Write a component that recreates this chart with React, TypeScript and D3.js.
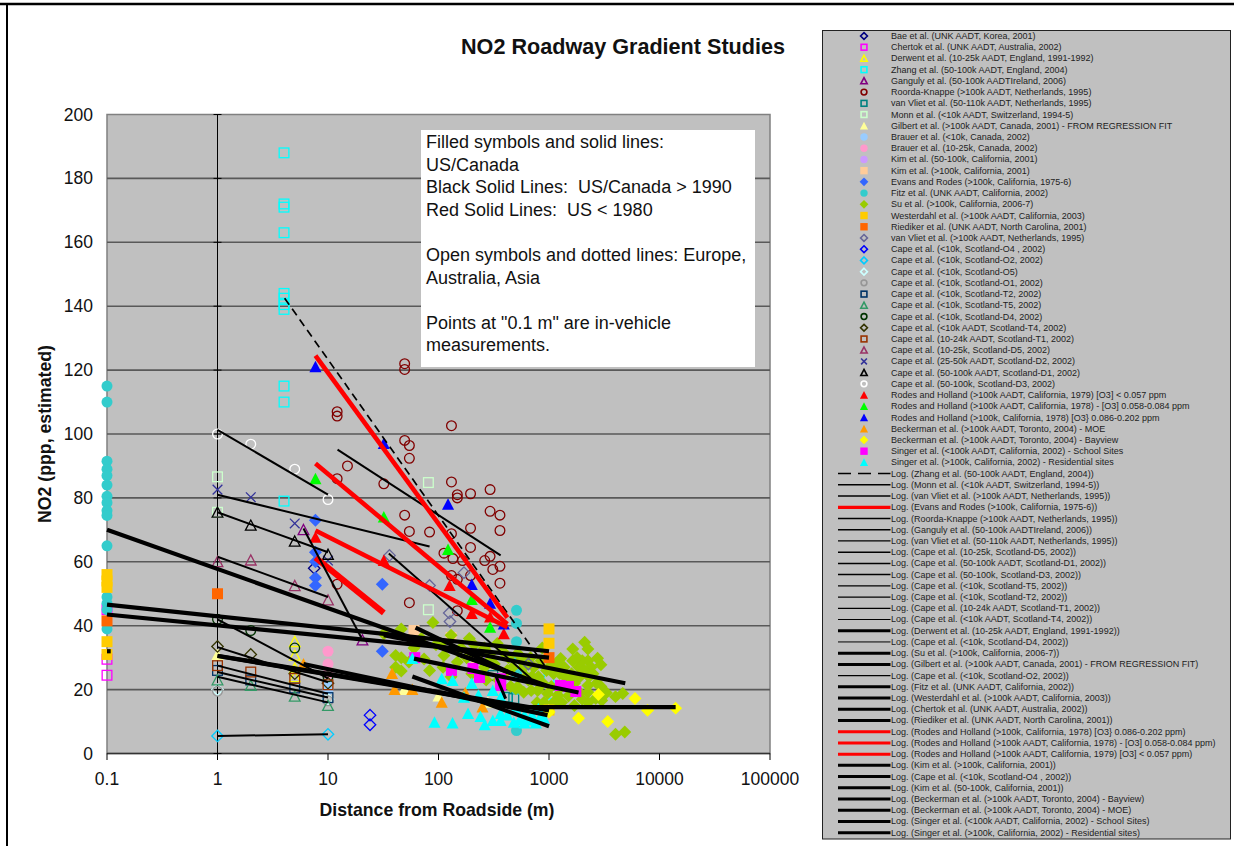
import React from "react";
import * as d3 from "d3";

type Pt = [number, number];
const FONT = "'Liberation Sans', Arial, sans-serif";

// ---- measured points [distance m, NO2] ----
const bae: Pt[] = [[7.5, 58]];
const chertok: Pt[] = [[0.1, 45], [0.1, 29.5], [0.1, 24.5]];
const derwent: Pt[] = [[5, 35], [5, 30.7], [5, 26.7], [5, 24]];
const zhang: Pt[] = [[4, 188], [4, 172], [4, 171], [4, 163], [4, 144], [4, 142.5], [4, 140.5], [4, 139], [4, 115], [4, 110], [4, 79], [1000, 23.5], [1000, 15.6], [420, 17.5]];
const ganguly: Pt[] = [[6, 70], [20.5, 35.5]];
const roorda: Pt[] = [[12.1, 107], [12.1, 105.6], [131, 102.6], [49.4, 98], [54.5, 96.4], [54.5, 92.4], [15, 90], [12.1, 86], [32, 84.4], [131, 85], [148, 81], [148, 80], [195, 81.3], [293, 82.6], [293, 75.8], [360, 74.6], [49.4, 74.6], [360, 69.8], [54.5, 69.5], [83, 69.3], [131, 68.8], [195, 70.5], [195, 64.5], [112, 62.7], [135, 61], [165, 60.4], [262, 60.4], [293, 61.7], [310, 57.6], [360, 58.6], [360, 53.3], [131, 55.7], [148, 54.5], [195, 55.7], [54.5, 47.2], [148, 44.7], [12.1, 53], [49.4, 122], [49.4, 120.2]];
const vanVliet50: Pt[] = [[310, 24.4], [420, 17.6], [480, 17.2]];
const monn: Pt[] = [[1, 86.6], [1, 75.5], [81, 84.8], [81, 45]];
const gilbert: Pt[] = [[1, 31], [49, 20], [100, 18], [280, 16]];
const brauerLow: Pt[] = [[10, 22], [10, 20]];
const brauerMid: Pt[] = [[10, 32], [10, 28], [10, 25]];
const kim50: Pt[] = [[240, 30.7]];
const kim100: Pt[] = [[60, 38.5], [130, 36.3], [220, 30]];
const evans: Pt[] = [[7.7, 73], [7.7, 63], [7.7, 60], [7.7, 55], [7.7, 52.6], [31, 53], [31, 32]];
const fitz: Pt[] = [[0.1, 115], [0.1, 110], [0.1, 91.5], [0.1, 89], [0.1, 87], [0.1, 84], [0.1, 80.5], [0.1, 78.5], [0.1, 76], [0.1, 74.5], [0.1, 65], [0.1, 49], [0.1, 47], [0.1, 45], [0.1, 39], [508, 44.8], [508, 40.7], [508, 35], [508, 30], [508, 25], [508, 20], [508, 14], [508, 7.2]];
const su: Pt[] = [[2100, 34.8], [1640, 32.7], [2250, 32.7], [2750, 29.8], [2950, 27.8], [1275, 29.7], [1640, 29], [2250, 29], [1370, 27], [1860, 27], [2400, 27], [2250, 21.3], [2950, 21], [2250, 19.2], [2650, 17.2], [1200, 18.2], [970, 18.8], [4000, 17.8], [4650, 18.8], [3000, 16.6], [2260, 16], [4000, 6], [4850, 6.7], [590, 19.2], [500, 20.3], [790, 19.7], [89, 41], [46, 39], [32, 37.5], [41, 30.7], [46, 30], [54, 28.6], [41, 27], [46, 25.8], [83, 26], [74, 29.6], [112, 30.7], [148, 28.6], [190, 36], [340, 34.4], [870, 33], [520, 31.3], [850, 29], [590, 27], [520, 20.8], [690, 19.7], [300, 29.7], [240, 31.3], [105, 34.4], [700, 24], [1100, 25], [1500, 23], [1900, 24], [1300, 21], [420, 26], [680, 30], [950, 26], [60, 33], [160, 33], [260, 27], [70, 36], [95, 34], [130, 37], [150, 32], [180, 30], [210, 34], [260, 33], [290, 31], [320, 28], [380, 32], [430, 30], [470, 27], [560, 29], [620, 24], [650, 23], [730, 27], [800, 24], [880, 22], [1000, 27], [1050, 21], [1150, 28], [1250, 25], [1400, 24], [1600, 25], [1700, 22], [2000, 29], [2100, 26], [2300, 24], [2500, 25], [2700, 22], [1800, 30], [1900, 19], [1500, 18], [1300, 16], [1700, 15], [2000, 17], [1100, 16], [3300, 19], [900, 16], [780, 16], [450, 21], [350, 23], [270, 23], [200, 25], [130, 24], [110, 27]];
const westerdahl: Pt[] = [[0.1, 56], [0.1, 54], [0.1, 52], [0.1, 35], [0.1, 31], [1000, 39], [1000, 34.5], [1000, 13.6]];
const riediker: Pt[] = [[0.1, 41.5], [1, 50], [1000, 30]];
const vanVliet100: Pt[] = [[36, 62], [170, 56.6], [83, 52.6], [125, 44], [127, 41.3], [650, 28]];
const capeO4: Pt[] = [[24, 12], [24, 9]];
const capeO2: Pt[] = [[1, 5.5], [10, 6]];
const capeO5: Pt[] = [[1, 20], [10, 17]];
const capeO1: Pt[] = [[1, 19.5], [10, 16.5]];
const capeT2: Pt[] = [[1, 26], [2, 23], [5, 20.5], [10, 17.5]];
const capeT5: Pt[] = [[1, 23], [2, 21.3], [5, 17.9], [10, 15]];
const capeD4: Pt[] = [[1, 42], [2, 38.5], [5, 33], [10, 24]];
const capeT4: Pt[] = [[1, 33.5], [2, 31], [5, 25], [10, 22]];
const capeT1: Pt[] = [[1, 27.5], [2, 25.5], [5, 23.5], [10, 21.5]];
const capeD5: Pt[] = [[1, 60], [2, 60.5], [5, 52.5], [10, 48]];
const capeD2: Pt[] = [[1, 82.6], [2, 80.2], [5, 72], [10, 60.4]];
const capeD1: Pt[] = [[1, 75.5], [2, 71.4], [5, 66.4], [10, 62.3]];
const capeD3: Pt[] = [[1, 100], [2, 96.8], [5, 89], [10, 79.5]];
const rodesLow: Pt[] = [[7.7, 67.7], [32, 60.4], [126, 52.6], [200, 43.8], [293, 42.7], [390, 37.5]];
const rodesMid: Pt[] = [[7.7, 86], [32, 74], [122, 63.8], [200, 48.2], [293, 39.5]];
const rodesHigh: Pt[] = [[7.7, 121], [32, 97], [122, 78], [200, 52.9], [293, 47], [390, 40.5]];
const beckMoe: Pt[] = [[6, 28], [38, 25], [40, 20], [58, 20], [107, 16], [175, 19], [250, 14.5]];
const beckBay: Pt[] = [[2800, 18.5], [6000, 17.2], [7800, 13.5], [14000, 14.2], [1850, 11], [3400, 10], [1000, 13]];
const singerSchool: Pt[] = [[61, 30], [131, 26], [205, 26.6], [235, 23.8], [365, 21.3], [365, 23.4], [1270, 21.3], [1750, 19.4], [1500, 21]];
const singerRes: Pt[] = [[58, 29.7], [107, 23.4], [134, 22.8], [200, 22], [92, 9.8], [134, 9.5], [185, 12.5], [240, 11.6], [262, 9], [310, 10.3], [365, 10.3], [480, 9.8], [600, 9.5], [760, 9.5], [310, 19.7], [365, 17.6], [170, 17.6], [230, 18.2], [365, 12.5], [850, 12], [500, 14], [600, 12], [700, 12], [800, 14], [900, 11], [420, 12], [540, 10.5], [680, 10.5]];

// ---- fitted trends: end values ----
const tZhang: Pt[] = [[4.05, 142.5], [935, 27]];
const tMonn: Pt[] = [[1, 81], [83, 64.8]];
const tVanVliet100: Pt[] = [[35.5, 62.6], [686, 23.5]];
const tEvans: Pt[] = [[7.7, 61.3], [32, 44]];
const tRoorda: Pt[] = [[12.2, 95.1], [365, 62]];
const tGanguly: Pt[] = [[6, 70.4], [20, 36.3]];
const tVanVliet50: Pt[] = [[330, 24.4], [405, 17.2]];
const tD5: Pt[] = [[1, 61.6], [10, 49]];
const tD1: Pt[] = [[1, 75.5], [10, 63]];
const tD3: Pt[] = [[1, 101.3], [10, 81]];
const tT5: Pt[] = [[1, 24], [10, 16]];
const tT2: Pt[] = [[1, 25.5], [10, 17.5]];
const tT1: Pt[] = [[1, 27.5], [10, 18.7]];
const tT4: Pt[] = [[1, 33.3], [10, 22.3]];
const tDerwent: Pt[] = [[1, 30.6], [1000, 13.5]];
const tD4: Pt[] = [[1, 42], [10, 23.5]];
const tSu: Pt[] = [[32, 37], [4900, 22]];
const tGilbert: Pt[] = [[1, 30.5], [600, 14.5]];
const tO2: Pt[] = [[1, 5.5], [10, 6]];
const tFitz: Pt[] = [[0.1, 70], [1000, 21]];
const tWesterdahl: Pt[] = [[0.1, 46.6], [1000, 32]];
const tChertok: Pt[] = [[0.1, 32], [0.108, 32]];
const tRiediker: Pt[] = [[0.1, 43.5], [1000, 30]];
const tRodesHigh: Pt[] = [[7.7, 124.5], [420, 42.5]];
const tRodesMid: Pt[] = [[7.7, 90.8], [420, 40.5]];
const tRodesLow: Pt[] = [[7.7, 69.8], [420, 39.5]];
const tKim100: Pt[] = [[62, 39.4], [430, 25.5]];
const tKim50: Pt[] = [[150, 31], [560, 24]];
const tBay: Pt[] = [[600, 14.5], [14000, 14.5]];
const tMoe: Pt[] = [[6, 28], [970, 12]];
const tSchool: Pt[] = [[60, 29.7], [1850, 19.1]];
const tRes: Pt[] = [[58, 24.1], [1000, 8.5]];

const yTicks = [0, 20, 40, 60, 80, 100, 120, 140, 160, 180, 200];
const xTicks = [0.1, 1, 10, 100, 1000, 10000, 100000];
const noteLines = [
  "Filled symbols and solid lines:", "US/Canada", "Black Solid Lines:  US/Canada > 1990", "Red Solid Lines:  US < 1980", "",
  "Open symbols and dotted lines: Europe,", "Australia, Asia", "",
  "Points at \"0.1 m\" are in-vehicle", "measurements.",
];

type Shape = "d" | "s" | "t" | "c" | "x";
type S = { n: string; d: Pt[]; sh: Shape; col: string; open: boolean };
const mk = (n: string, d: Pt[], sh: Shape, col: string, open: boolean): S => ({ n, d, sh, col, open });

const series: S[] = [
  mk("Bae et al. (UNK AADT, Korea, 2001)", bae, "d", "#000080", true),
  mk("Chertok et al. (UNK AADT, Australia, 2002)", chertok, "s", "#FF00FF", true),
  mk("Derwent et al. (10-25k AADT, England, 1991-1992)", derwent, "t", "#FFFF00", true),
  mk("Zhang et al. (50-100k AADT, England, 2004)", zhang, "s", "#00FFFF", true),
  mk("Ganguly et al. (50-100k AADTIreland, 2006)", ganguly, "t", "#800080", true),
  mk("Roorda-Knappe (>100k AADT, Netherlands, 1995)", roorda, "c", "#800000", true),
  mk("van Vliet et al. (50-110k AADT, Netherlands, 1995)", vanVliet50, "s", "#008080", true),
  mk("Monn et al. (<10k AADT, Switzerland, 1994-5)", monn, "s", "#CCFFCC", true),
  mk("Gilbert et al. (>100k AADT, Canada, 2001) - FROM REGRESSION FIT", gilbert, "t", "#FFFF99", false),
  mk("Brauer et al. (<10k, Canada, 2002)", brauerLow, "c", "#99CCFF", false),
  mk("Brauer et al. (10-25k, Canada, 2002)", brauerMid, "c", "#FF99CC", false),
  mk("Kim et al. (50-100k, California, 2001)", kim50, "c", "#CC99FF", false),
  mk("Kim et al. (>100k, California, 2001)", kim100, "s", "#FFCC99", false),
  mk("Evans and Rodes (>100k, California, 1975-6)", evans, "d", "#3366FF", false),
  mk("Fitz et al. (UNK AADT, California, 2002)", fitz, "c", "#33CCCC", false),
  mk("Su et al. (>100k, California, 2006-7)", su, "d", "#99CC00", false),
  mk("Westerdahl et al. (>100k AADT, California, 2003)", westerdahl, "s", "#FFCC00", false),
  mk("Riediker et al. (UNK AADT, North Carolina, 2001)", riediker, "s", "#FF6600", false),
  mk("van Vliet et al. (>100k AADT, Netherlands, 1995)", vanVliet100, "d", "#666699", true),
  mk("Cape et al. (<10k, Scotland-O4 , 2002)", capeO4, "d", "#0000FF", true),
  mk("Cape et al. (<10k, Scotland-O2, 2002)", capeO2, "d", "#00CCFF", true),
  mk("Cape et al. (<10k, Scotland-O5)", capeO5, "d", "#CCFFFF", true),
  mk("Cape et al. (<10k, Scotland-O1, 2002)", capeO1, "c", "#969696", true),
  mk("Cape et al. (<10k, Scotland-T2, 2002)", capeT2, "s", "#003366", true),
  mk("Cape et al. (<10k, Scotland-T5, 2002)", capeT5, "t", "#339966", true),
  mk("Cape et al. (<10k, Scotland-D4, 2002)", capeD4, "c", "#003300", true),
  mk("Cape et al. (<10k AADT, Scotland-T4, 2002)", capeT4, "d", "#333300", true),
  mk("Cape et al. (10-24k AADT, Scotland-T1, 2002)", capeT1, "s", "#993300", true),
  mk("Cape et al. (10-25k, Scotland-D5, 2002)", capeD5, "t", "#993366", true),
  mk("Cape et al. (25-50k AADT, Scotland-D2, 2002)", capeD2, "x", "#333399", true),
  mk("Cape et al. (50-100k AADT, Scotland-D1, 2002)", capeD1, "t", "#000000", true),
  mk("Cape et al. (50-100k, Scotland-D3, 2002)", capeD3, "c", "#FFFFFF", true),
  mk("Rodes and Holland (>100k AADT, California, 1979) [O3] < 0.057 ppm", rodesLow, "t", "#FF0000", false),
  mk("Rodes and Holland (>100k AADT, California, 1978) - [O3] 0.058-0.084 ppm", rodesMid, "t", "#00FF00", false),
  mk("Rodes and Holland (>100k, California, 1978) [O3} 0.086-0.202 ppm", rodesHigh, "t", "#0000FF", false),
  mk("Beckerman et al. (>100k AADT, Toronto, 2004) - MOE", beckMoe, "t", "#FF9900", false),
  mk("Beckerman et al. (>100k AADT, Toronto, 2004) - Bayview", beckBay, "d", "#FFFF00", false),
  mk("Singer et al. (<100k AADT, California, 2002) - School Sites", singerSchool, "s", "#FF00FF", false),
  mk("Singer et al. (>100k, California, 2002) - Residential sites", singerRes, "t", "#00FFFF", false),
];

type T = { n: string; d: Pt[] | null; col: string; w: number; lw: number; dash?: string };
const tr = (n: string, d: Pt[] | null, w: number, lw: number, col = "#000", dash?: string): T => ({ n, d, w, lw, col, dash });
const trends: T[] = [
  tr("Log. (Zhang et al. (50-100k AADT, England, 2004))", tZhang, 1.7, 1.5, "#000", "8 5"),
  tr("Log. (Monn et al. (<10k AADT, Switzerland, 1994-5))", tMonn, 2, 1.5),
  tr("Log. (van Vliet et al. (>100k AADT, Netherlands, 1995))", tVanVliet100, 2, 1.5),
  tr("Log. (Evans and Rodes (>100k, California, 1975-6))", tEvans, 6, 3.2, "#FF0000"),
  tr("Log. (Roorda-Knappe (>100k AADT, Netherlands, 1995))", tRoorda, 2, 1.5),
  tr("Log. (Ganguly et al. (50-100k AADTIreland, 2006))", tGanguly, 2, 1.5),
  tr("Log. (van Vliet et al. (50-110k AADT, Netherlands, 1995))", tVanVliet50, 3, 1.2),
  tr("Log. (Cape et al. (10-25k, Scotland-D5, 2002))", tD5, 2, 1.5),
  tr("Log. (Cape et al. (50-100k AADT, Scotland-D1, 2002))", tD1, 2, 1.5),
  tr("Log. (Cape et al. (50-100k, Scotland-D3, 2002))", tD3, 2, 1.5),
  tr("Log. (Cape et al. (<10k, Scotland-T5, 2002))", tT5, 2, 1.2),
  tr("Log. (Cape et al. (<10k, Scotland-T2, 2002))", tT2, 2, 1.2),
  tr("Log. (Cape et al. (10-24k AADT, Scotland-T1, 2002))", tT1, 2, 1.2),
  tr("Log. (Cape et al. (<10k AADT, Scotland-T4, 2002))", tT4, 2, 1.2),
  tr("Log. (Derwent et al. (10-25k AADT, England, 1991-1992))", tDerwent, 4.2, 3),
  tr("Log. (Cape et al. (<10k, Scotland-D4, 2002))", tD4, 2, 1),
  tr("Log. (Su et al. (>100k, California, 2006-7))", tSu, 4.2, 3),
  tr("Log. (Gilbert et al. (>100k AADT, Canada, 2001) - FROM REGRESSION FIT)", tGilbert, 4.2, 3),
  tr("Log. (Cape et al. (<10k, Scotland-O2, 2002))", tO2, 2, 1.2),
  tr("Log. (Fitz et al. (UNK AADT, California, 2002))", tFitz, 4.2, 3),
  tr("Log. (Westerdahl et al. (>100k AADT, California, 2003))", tWesterdahl, 4.2, 3),
  tr("Log. (Chertok et al. (UNK AADT, Australia, 2002))", tChertok, 4.2, 3),
  tr("Log. (Riediker et al. (UNK AADT, North Carolina, 2001))", tRiediker, 4.2, 3),
  tr("Log. (Rodes and Holland (>100k, California, 1978) [O3} 0.086-0.202 ppm)", tRodesHigh, 4.6, 3, "#FF0000"),
  tr("Log. (Rodes and Holland (>100k AADT, California, 1978) - [O3] 0.058-0.084 ppm)", tRodesMid, 4.6, 3, "#FF0000"),
  tr("Log. (Rodes and Holland (>100k AADT, California, 1979) [O3] < 0.057 ppm)", tRodesLow, 4.6, 3, "#FF0000"),
  tr("Log. (Kim et al. (>100k, California, 2001))", tKim100, 4.2, 3),
  tr("Log. (Cape et al. (<10k, Scotland-O4 , 2002))", null, 4.2, 3),
  tr("Log. (Kim et al. (50-100k, California, 2001))", tKim50, 4.2, 3),
  tr("Log. (Beckerman et al. (>100k AADT, Toronto, 2004) - Bayview)", tBay, 4.2, 3),
  tr("Log. (Beckerman et al. (>100k AADT, Toronto, 2004) - MOE)", tMoe, 4.2, 3),
  tr("Log. (Singer et al. (<100k AADT, California, 2002) - School Sites)", tSchool, 4.2, 3),
  tr("Log. (Singer et al. (>100k, California, 2002) - Residential sites)", tRes, 4.2, 3),
];

const x = d3.scaleLog().domain([0.1, 100000]).range([107, 770]);
const y = d3.scaleLinear().domain([0, 200]).range([753.5, 114.5]);
const trendLine = d3.line<Pt>().x((p) => x(p[0])).y((p) => y(p[1]));

function Marker({ s, cx, cy, r, sw0 }: { s: S; cx: number; cy: number; r: number; sw0: number }) {
  const sw = s.open ? sw0 : 0;
  const fill = s.open ? "none" : s.col;
  const stroke = s.open ? s.col : "none";
  const rr = s.open ? r - sw / 2 : r;
  const common = { fill, stroke, strokeWidth: sw };
  if (s.sh === "c") return <circle cx={cx} cy={cy} r={rr} {...common} />;
  if (s.sh === "s") return <rect x={cx - rr} y={cy - rr} width={2 * rr} height={2 * rr} {...common} />;
  if (s.sh === "d") {
    const q = rr * 1.18;
    return <path d={`M${cx},${cy - q}L${cx + q},${cy}L${cx},${cy + q}L${cx - q},${cy}Z`} {...common} />;
  }
  if (s.sh === "t") {
    const q = rr * 1.1;
    return <path d={`M${cx},${cy - q}L${cx + q},${cy + q * 0.9}L${cx - q},${cy + q * 0.9}Z`} {...common} />;
  }
  return <path d={`M${cx - rr},${cy - rr}L${cx + rr},${cy + rr}M${cx + rr},${cy - rr}L${cx - rr},${cy + rr}`} fill="none" stroke={s.col} strokeWidth={sw0} />;
}

export default function App() {
  const legendRows = 72;
  const legendY = (i: number) => 36 + i * (832.7 - 36) / (legendRows - 1);
  return (
    <svg width={1234} height={846} style={{ position: "absolute", left: 0, top: 0, background: "#fff" }} fontFamily={FONT}>
      <line x1={0} x2={1234} y1={4} y2={4} stroke="#000" strokeWidth={2.4} />
      <line x1={7} x2={7} y1={4} y2={846} stroke="#000" strokeWidth={2} />
      <text x={623} y={54} textAnchor="middle" fontSize={21.6} fontWeight="bold" fill="#111">NO2 Roadway Gradient Studies</text>

      <rect x={107} y={114.5} width={663} height={639} fill="#C0C0C0" stroke="#808080" strokeWidth={1.5} />
      {yTicks.slice(1, -1).map((v) => <line key={v} x1={107} x2={770} y1={y(v)} y2={y(v)} stroke="#595959" strokeWidth={1.6} />)}
      <line x1={107} x2={770} y1={y(0)} y2={y(0)} stroke="#333" strokeWidth={1.6} />
      <line x1={x(1)} x2={x(1)} y1={y(200)} y2={y(0)} stroke="#000" strokeWidth={1} />
      {yTicks.map((v) => <line key={v} x1={x(1) - 4} x2={x(1) + 4} y1={y(v)} y2={y(v)} stroke="#000" strokeWidth={1} />)}
      {xTicks.map((v) => <line key={v} x1={x(v)} x2={x(v)} y1={y(0)} y2={760} stroke="#000" strokeWidth={1} />)}
      {yTicks.map((v) => <text key={v} x={93} y={y(v) + 6} textAnchor="end" fontSize={17.5} fill="#111">{v}</text>)}
      {xTicks.map((v) => <text key={v} x={x(v)} y={785} textAnchor="middle" fontSize={17.5} fill="#111">{String(v)}</text>)}
      <text x={437} y={816} textAnchor="middle" fontSize={17.7} fontWeight="bold" fill="#111">Distance from Roadside (m)</text>
      <text transform="translate(51,434) rotate(-90)" textAnchor="middle" fontSize={17.7} fontWeight="bold" fill="#111">NO2 (ppp, estimated)</text>

      <rect x={421} y={130} width={334} height={237} fill="#fff" />
      {noteLines.map((l, i) => <text key={i} x={426} y={148 + i * 22.6} fontSize={18} fill="#111" xmlSpace="preserve">{l}</text>)}

      {series.map((s) => (
        <g key={s.n}>{s.d.map((p, i) => <Marker key={i} s={s} cx={x(p[0])} cy={y(p[1])} r={5.5} sw0={1.3} />)}</g>
      ))}
      {trends.filter((t) => t.d).map((t) => (
        <path key={t.n} d={trendLine(t.d as Pt[]) as string} fill="none" stroke={t.col} strokeWidth={t.w} strokeDasharray={t.dash} />
      ))}

      <rect x={822.5} y={30.5} width={408} height={808.5} fill="#C0C0C0" stroke="#222" strokeWidth={1} />
      {series.map((s, i) => (
        <g key={s.n}>
          <Marker s={s} cx={864} cy={legendY(i)} r={3.7} sw0={1.6} />
          <text x={891} y={legendY(i) + 3} fontSize={9} fill="#222">{s.n}</text>
        </g>
      ))}
      {trends.map((t, i) => {
        const yy = legendY(i + series.length);
        return (
          <g key={t.n}>
            <line x1={838} x2={890.5} y1={yy} y2={yy} stroke={t.col} strokeWidth={t.lw} strokeDasharray={t.dash ? "13 7" : undefined} />
            <text x={891} y={yy + 3} fontSize={9} fill="#222">{t.n}</text>
          </g>
        );
      })}
    </svg>
  );
}
